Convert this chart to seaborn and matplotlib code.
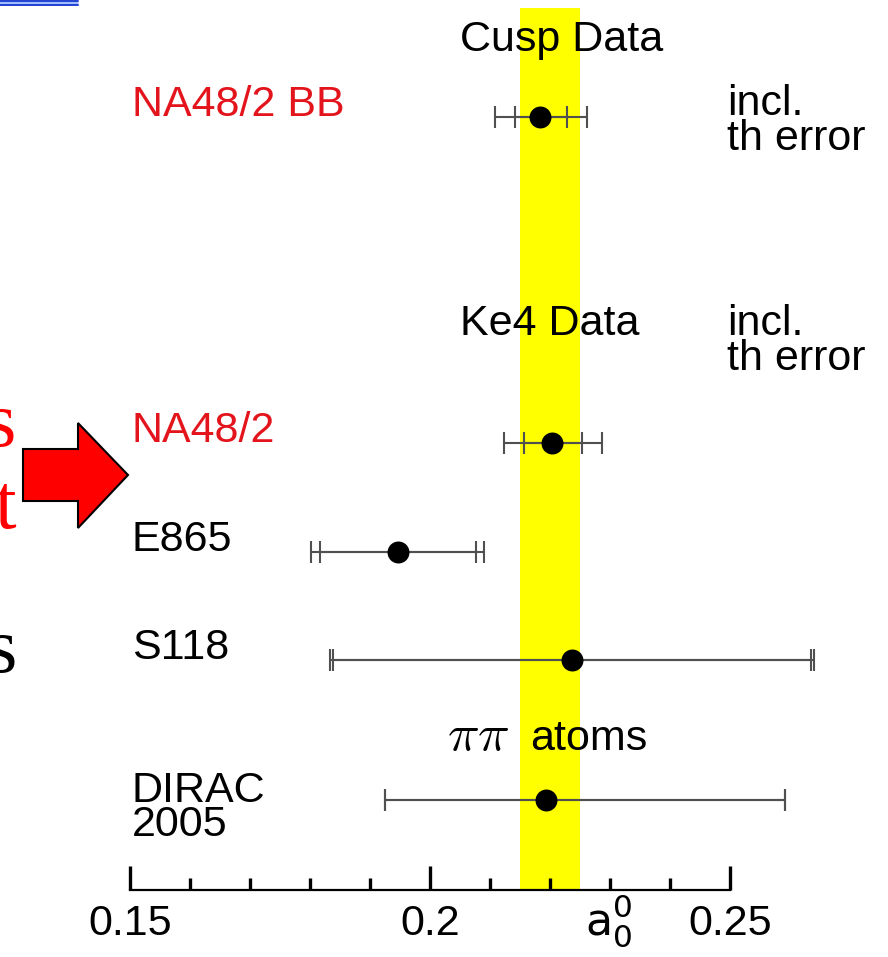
import matplotlib
matplotlib.use("Agg")
import matplotlib.pyplot as plt
from matplotlib.patches import Polygon
from matplotlib.lines import Line2D
import seaborn as sns

# ---- data -------------------------------------------------------------
experiments = ["NA48/2 BB", "NA48/2", "E865", "S118", "DIRAC\n2005"]
label_colors = ["#e3141c", "#e3141c", "black", "black", "black"]
rows = [7.0, 4.0, 3.0, 2.0, 0.72]
a00 = [0.2184, 0.2204, 0.1946, 0.2236, 0.2193]
# inner (statistical+systematic) and outer (incl. theory) error bars
inner_lo = [0.0043, 0.0048, 0.0129, 0.0397, 0.0268]
inner_hi = [0.0044, 0.0049, 0.0131, 0.0399, 0.0399]
outer_lo = [0.0076, 0.0080, 0.0145, 0.0402, 0.0268]
outer_hi = [0.0077, 0.0082, 0.0144, 0.0404, 0.0399]
chpt_band = [0.215, 0.225]
major_ticks = [0.15, 0.20, 0.25]
major_labels = ["0.15", "0.2", "0.25"]
minor_ticks = [0.16, 0.17, 0.18, 0.19, 0.21, 0.22, 0.23, 0.24]

sns.set_theme(style="white")
plt.rcParams["font.family"] = ["Liberation Sans", "DejaVu Sans"]
plt.rcParams["text.color"] = "black"

W, H = 888, 957
fig = plt.figure(figsize=(W / 100, H / 100), dpi=100)
fig.patch.set_facecolor("white")

ax = fig.add_axes([130 / W, 67 / H, 740 / W, 882 / H])
ax.patch.set_visible(False)
ax.set_xlim(0.15, 0.15 + 740 / 6000)
ax.set_ylim(-0.111, 8.0)

# theory band
ax.axvspan(chpt_band[0], chpt_band[1], color="#ffff00", lw=0, zorder=0)

# error bars: outer then inner
for lo, hi in [(outer_lo, outer_hi), (inner_lo, inner_hi)]:
    eb = ax.errorbar(a00, rows, xerr=[lo, hi], fmt="none", ecolor="#505050",
                     elinewidth=1.5, capsize=8, capthick=1.5, zorder=3)
    for art in list(eb.lines[1]) + list(eb.lines[2]):
        art.set_clip_on(False)

sns.scatterplot(x=a00, y=rows, s=250, color="black", edgecolor="black",
                linewidth=0, zorder=5, ax=ax, legend=False)

# axis styling
for side in ["left", "right", "top"]:
    ax.spines[side].set_visible(False)
ax.spines["bottom"].set_bounds(0.15, 0.25)
ax.spines["bottom"].set_linewidth(1.6)
ax.spines["bottom"].set_color("black")
ax.set_yticks([])
ax.set_xticks(major_ticks)
ax.set_xticklabels(major_labels)
ax.set_xticks(minor_ticks, minor=True)
ax.tick_params(axis="x", which="major", direction="in", length=17, width=2.4,
               color="black", pad=10, labelsize=31, labelcolor="black", bottom=True)
ax.tick_params(axis="x", which="minor", direction="in", length=8.5, width=2.4,
               color="black", bottom=True)
ax.set_xlabel("")
ax.set_ylabel("")

fs = 31
# experiment labels
for name, col, r in zip(experiments, label_colors, rows):
    if "\n" in name:
        top, bottom = name.split("\n")
        ax.text(0.1503, r - 0.02, top, color=col, fontsize=fs, ha="left", va="baseline")
        ax.text(0.1503, r - 0.33, bottom, color=col, fontsize=fs, ha="left", va="baseline")
    else:
        ax.text(0.1503, r + 0.01, name, color=col, fontsize=fs, ha="left", va="baseline")

ax.text(0.205, 7.607, "Cusp Data", fontsize=fs, ha="left", va="baseline", zorder=6)
ax.text(0.205, 4.995, "Ke4 Data", fontsize=fs, ha="left", va="baseline", zorder=6)
for ybase in [7.015, 4.995]:
    ax.text(0.2495, ybase, "incl.", fontsize=fs, ha="left", va="baseline", clip_on=False)
    ax.text(0.2495, ybase - 0.325, "th error", fontsize=fs, ha="left", va="baseline",
            clip_on=False)
ax.text(0.2028, 1.177, r"$\pi\pi$", fontsize=38, math_fontfamily="cm",
        ha="left", va="baseline")
ax.text(0.2167, 1.177, "atoms", fontsize=fs, ha="left", va="baseline", zorder=6)
ax.text(0.2258, -0.53, r"$\mathsf{a}^0_0$", fontsize=32, math_fontfamily="dejavusans",
        ha="left", va="baseline", clip_on=False)

# slide decorations on the left edge
def px(x, y):
    return (x / W, 1 - y / H)

for yy, c, lw in [(1, "#1f3fd0", 1.4), (3, "#8fb0ff", 1.2), (5, "#1f3fd0", 1.4)]:
    fig.add_artist(Line2D([0, 78 / W], [1 - yy / H] * 2, color=c, lw=lw,
                          transform=fig.transFigure))

arrow_pts = [px(23, 449), px(78, 449), px(78, 423), px(128, 475),
             px(78, 528), px(78, 501), px(23, 501)]
fig.add_artist(Polygon(arrow_pts, closed=True, facecolor="#ff0000", edgecolor="black",
                       lw=1.5, transform=fig.transFigure))

serif = ["Liberation Serif", "DejaVu Serif"]
fig.text(16 / W, 1 - 446 / H, "s", ha="right", va="baseline", color="#ff0000",
         family=serif, fontsize=56)
fig.text(16 / W, 1 - 528 / H, "t", ha="right", va="baseline", color="#ff0000",
         family=serif, fontsize=56)
fig.text(17 / W, 1 - 672 / H, "s", ha="right", va="baseline", color="black",
         family=serif, fontsize=56)

fig.savefig("out.png", dpi=100, facecolor="white")
